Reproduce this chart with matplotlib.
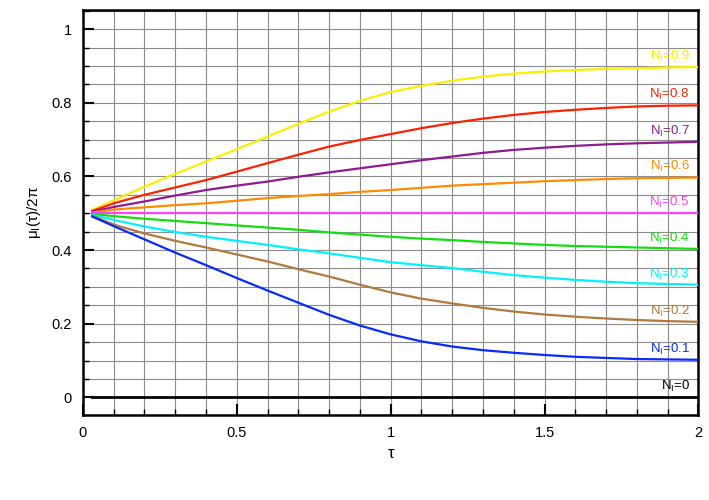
import numpy as np
import matplotlib
matplotlib.use("Agg")
import matplotlib.pyplot as plt
from matplotlib.ticker import MultipleLocator

plt.rcParams['font.family'] = ['Liberation Sans', 'DejaVu Sans']
plt.rcParams['mathtext.fontset'] = 'custom'
plt.rcParams['mathtext.rm'] = 'Liberation Sans'
plt.rcParams['mathtext.it'] = 'Liberation Sans'

# time grid (tau) and curve values
tau = [0.03, 0.1, 0.2, 0.3, 0.4, 0.5, 0.6, 0.7, 0.8, 0.9, 1.0,
       1.1, 1.2, 1.3, 1.4, 1.5, 1.6, 1.7, 1.8, 1.9, 2.0]

n_labels = ["0.9", "0.8", "0.7", "0.6", "0.5", "0.4", "0.3", "0.2", "0.1", "0"]
mu_09 = [0.509, 0.535, 0.572, 0.607, 0.640, 0.674, 0.708, 0.743, 0.776, 0.805, 0.829,
         0.846, 0.860, 0.871, 0.879, 0.885, 0.889, 0.892, 0.894, 0.896, 0.897]
mu_08 = [0.506, 0.527, 0.550, 0.570, 0.590, 0.613, 0.636, 0.659, 0.681, 0.699, 0.715,
         0.731, 0.745, 0.757, 0.767, 0.775, 0.781, 0.786, 0.790, 0.792, 0.793]
mu_07 = [0.504, 0.517, 0.532, 0.548, 0.563, 0.575, 0.586, 0.599, 0.611, 0.622, 0.633,
         0.644, 0.654, 0.664, 0.672, 0.678, 0.683, 0.687, 0.690, 0.692, 0.694]
mu_06 = [0.502, 0.510, 0.516, 0.522, 0.527, 0.534, 0.541, 0.547, 0.552, 0.558, 0.563,
         0.569, 0.575, 0.579, 0.583, 0.587, 0.590, 0.593, 0.595, 0.596, 0.597]
mu_05 = [0.500] * 21
mu_04 = [0.498, 0.492, 0.485, 0.479, 0.473, 0.467, 0.461, 0.455, 0.448, 0.442, 0.436,
         0.431, 0.427, 0.422, 0.418, 0.414, 0.411, 0.409, 0.407, 0.405, 0.403]
mu_03 = [0.496, 0.482, 0.464, 0.449, 0.436, 0.425, 0.414, 0.402, 0.391, 0.379, 0.367,
         0.359, 0.351, 0.341, 0.332, 0.325, 0.319, 0.314, 0.310, 0.308, 0.306]
mu_02 = [0.494, 0.469, 0.445, 0.425, 0.407, 0.388, 0.369, 0.348, 0.328, 0.306, 0.285,
         0.268, 0.255, 0.243, 0.233, 0.225, 0.219, 0.214, 0.210, 0.207, 0.205]
mu_01 = [0.491, 0.465, 0.429, 0.393, 0.359, 0.324, 0.290, 0.257, 0.224, 0.195, 0.171,
         0.152, 0.138, 0.128, 0.121, 0.115, 0.110, 0.107, 0.104, 0.103, 0.102]
mu_00 = [0.0] * 21

series = [mu_09, mu_08, mu_07, mu_06, mu_05, mu_04, mu_03, mu_02, mu_01, mu_00]
colors = ["#f8f000", "#ff2200", "#8e1c8e", "#ff8c00", "#ff44ff",
          "#11dd11", "#00f0ff", "#b07a40", "#0a2aff", "#000000"]

fig = plt.figure(figsize=(7.09, 5.0), dpi=100)
ax = fig.add_axes([0.117, 0.17, 0.868, 0.81])

for y, c, lab in zip(series, colors, n_labels):
    lw = 2.0 if lab == "0" else 1.6
    ax.plot(tau, y, color=c, lw=lw, zorder=3)
    ax.text(1.972, y[-1] + 0.029, r"N$_\mathrm{I}$=" + lab, color=c,
            fontsize=9.5, ha="right", va="center", zorder=4)

ax.set_xlim(0, 2)
ax.set_ylim(-0.048, 1.052)
ax.xaxis.set_major_locator(MultipleLocator(0.5))
ax.xaxis.set_minor_locator(MultipleLocator(0.1))
ax.yaxis.set_major_locator(MultipleLocator(0.2))
ax.yaxis.set_minor_locator(MultipleLocator(0.05))
ax.xaxis.set_major_formatter(plt.FuncFormatter(lambda v, p: f"{v:g}"))
ax.yaxis.set_major_formatter(plt.FuncFormatter(lambda v, p: f"{v:g}"))

ax.grid(which="both", color="#8c8c8c", lw=0.8, zorder=1)
ax.tick_params(which="major", direction="in", length=8, width=1.5, labelsize=10.5, pad=8)
ax.tick_params(which="minor", direction="in", length=4, width=1.0)
ax.tick_params(top=False, right=False)
for s in ax.spines.values():
    s.set_linewidth(1.8)

ax.set_xlabel("τ", fontsize=12, labelpad=4)
ax.set_ylabel(r"μ$_\mathrm{I}$(τ)/2π", fontsize=11, labelpad=6)

fig.savefig("out.png", dpi=100)
